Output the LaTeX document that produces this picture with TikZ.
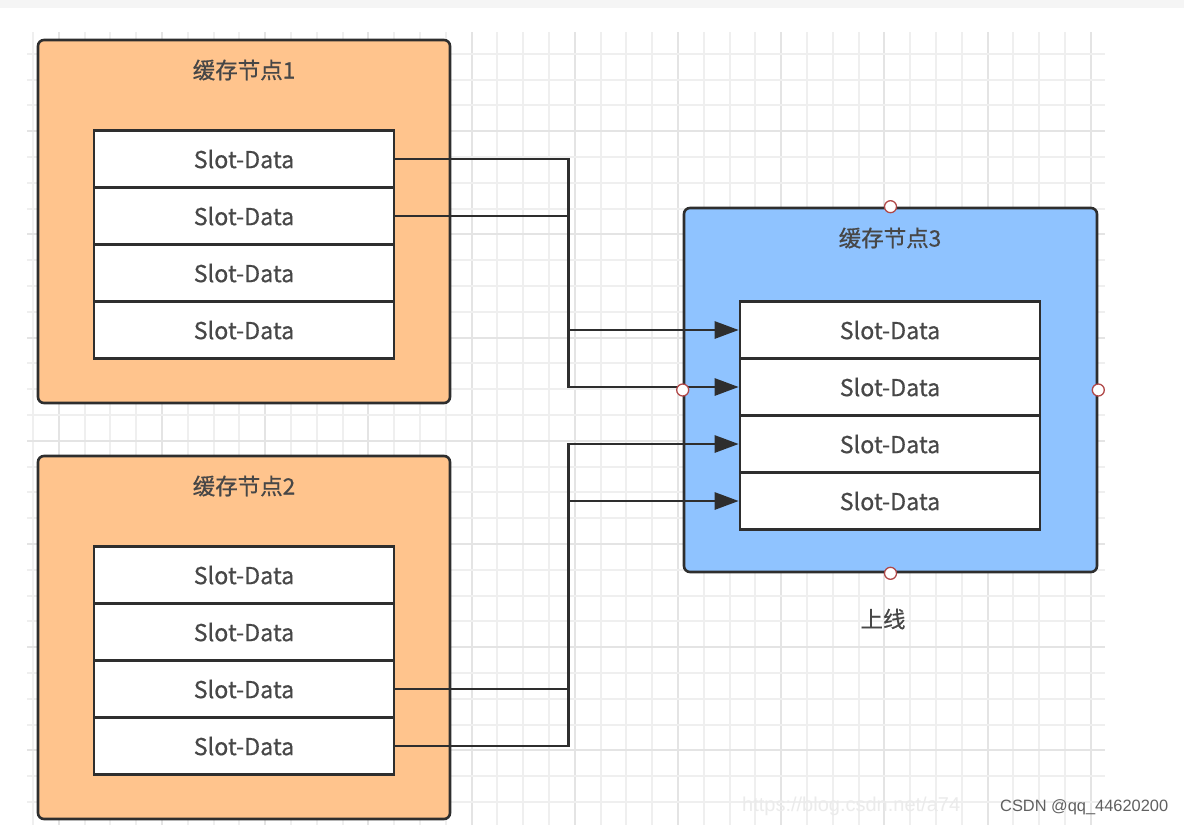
\documentclass[tikz,border=0pt]{standalone}
\usepackage{fontspec}
\setmainfont{Noto Sans CJK SC}[FakeBold=0.6]
\newfontfamily\wmfont{Liberation Sans}
\usetikzlibrary{arrows.meta}
\definecolor{gridminor}{HTML}{EFEFEF}
\definecolor{gridmajor}{HTML}{E4E4E4}
\definecolor{orangefill}{HTML}{FFC48D}
\definecolor{bluefill}{HTML}{8FC3FF}
\definecolor{edge}{HTML}{2E2E2E}
\definecolor{txt}{HTML}{474747}
\definecolor{handleedge}{HTML}{B04848}
\tikzset{
  cachebox/.style={draw=edge, line width=2.6pt, rounded corners=6pt, minimum width=412pt, minimum height=363pt, inner sep=0pt},
  slotbox/.style={draw=edge, line width=2.6pt, fill=white, minimum width=300pt, minimum height=57pt, inner sep=0pt, font=\fontsize{23.3}{26}\selectfont, text=txt},
  titletext/.style={font=\fontsize{22.5}{26}\selectfont, text=txt, inner sep=0pt},
  conn/.style={draw=edge, line width=2.7pt},
  arrowconn/.style={conn, -{Triangle[length=24pt,width=17pt]}},
  handle/.style={circle, draw=handleedge, line width=1.3pt, fill=white, minimum size=12pt, inner sep=0pt},
}
\begin{document}
\begin{tikzpicture}[x=1pt,y=-1pt]
\useasboundingbox (0,0) rectangle (1184,825);
\fill[white] (0,0) rectangle (1184,825);
\fill[gray!8] (0,0) rectangle (1184,8);
% grid
\foreach \k in {0,...,41}{
  \pgfmathsetmacro\gx{round(33+25.8*\k)}
  \pgfmathtruncatemacro\m{mod(\k,4)}
  \ifnum\m=1
    \draw[gridmajor, line width=1.6pt] (\gx,32) -- (\gx,825);
  \else
    \draw[gridminor, line width=1.4pt] (\gx,32) -- (\gx,825);
  \fi
}
\foreach \k in {0,...,29}{
  \pgfmathsetmacro\gy{round(802-25.8*\k)}
  \pgfmathtruncatemacro\m{mod(\k,4)}
  \ifnum\m=2
    \draw[gridmajor, line width=1.6pt] (27,\gy) -- (1105,\gy);
  \else
    \draw[gridminor, line width=1.4pt] (27,\gy) -- (1105,\gy);
  \fi
}
% node 1
\node[cachebox, fill=orangefill] (n1) at (244,221.5) {};
\node[titletext] (t1) at (244,70) {缓存节点1};
\node[slotbox] (n1s1) at (244,159) {Slot-Data};
\node[slotbox] (n1s2) at (244,216) {Slot-Data};
\node[slotbox] (n1s3) at (244,273) {Slot-Data};
\node[slotbox] (n1s4) at (244,330) {Slot-Data};
% node 2
\node[cachebox, fill=orangefill] (n2) at (244,637.5) {};
\node[titletext] (t2) at (244,486) {缓存节点2};
\node[slotbox] (n2s1) at (244,575) {Slot-Data};
\node[slotbox] (n2s2) at (244,632) {Slot-Data};
\node[slotbox] (n2s3) at (244,689) {Slot-Data};
\node[slotbox] (n2s4) at (244,746) {Slot-Data};
% node 3
\node[cachebox, fill=bluefill, minimum width=413pt, minimum height=364pt] (n3) at (890.5,390) {};
\node[titletext] (t3) at (890,238) {缓存节点3};
\node[slotbox] (n3s1) at (890,330) {Slot-Data};
\node[slotbox] (n3s2) at (890,387) {Slot-Data};
\node[slotbox] (n3s3) at (890,444) {Slot-Data};
\node[slotbox] (n3s4) at (890,501) {Slot-Data};
% connectors
\draw[arrowconn] (n1s1.east) -- ++(173,0) |- (n3s2.west);
\draw[arrowconn] (n1s2.east) -- ++(173,0) |- (n3s1.west);
\draw[arrowconn] (n2s3.east) -- ++(173,0) |- (n3s3.west);
\draw[arrowconn] (n2s4.east) -- ++(173,0) |- (n3s4.west);
% handles
\node[handle] (h1) at (n3.north) {};
\node[handle] (h2) at (n3.west) {};
\node[handle] (h3) at (n3.east) {};
\node[handle] (h4) at (n3.south) {};
% label
\node[titletext] (lbl) at (883,619) {上线};
% watermark
\node[anchor=base west, inner sep=0pt, text=gray!16, font=\wmfont\fontsize{20}{24}\selectfont] (wm1) at (742,811) {https://blog.csdn.net/a74};
\node[anchor=base west, inner sep=0pt, text=gray!75!black, font=\wmfont\fontsize{16.4}{20}\selectfont] (wm2) at (1000,811) {CSDN @qq\_44620200};
\end{tikzpicture}
\end{document}
